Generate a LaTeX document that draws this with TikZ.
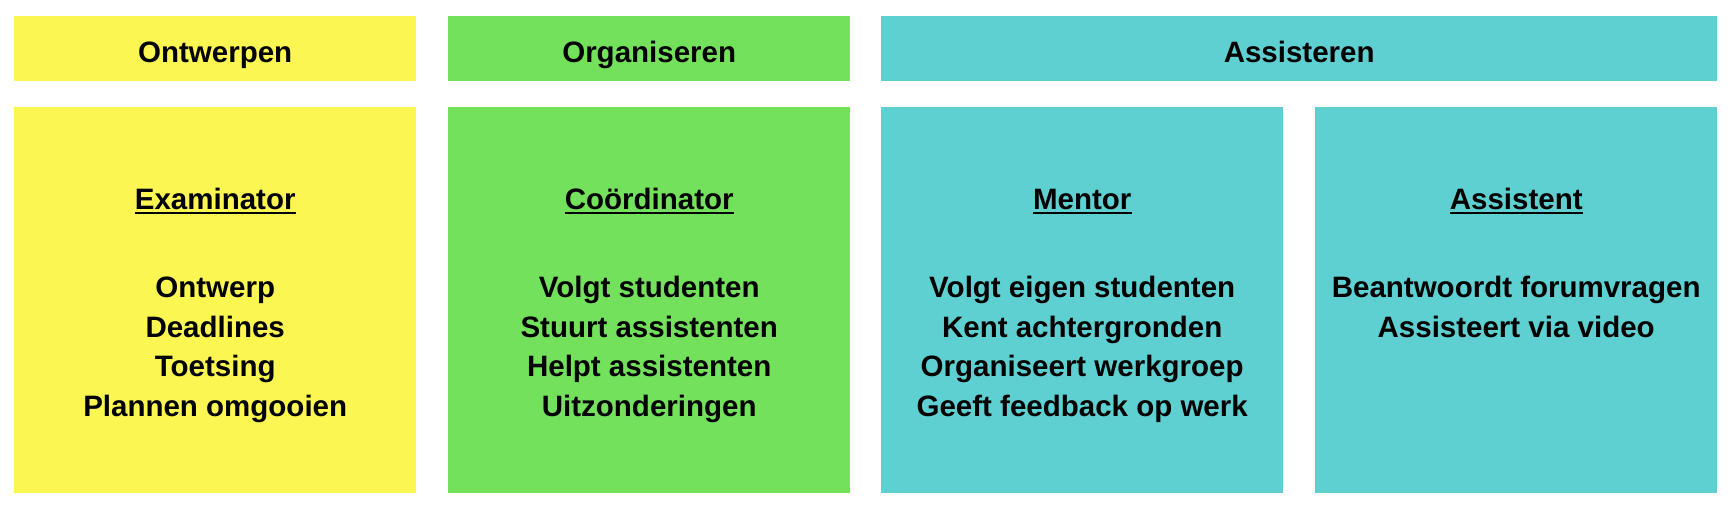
\documentclass[tikz,border=0pt]{standalone}
\usepackage{fontspec}
\setmainfont{Liberation Sans}
\usetikzlibrary{positioning}
\definecolor{exyellow}{HTML}{FCF653}
\definecolor{orggreen}{HTML}{74E15C}
\definecolor{astcyan}{HTML}{5FD0D2}

\begin{document}
\begin{tikzpicture}[x=1pt,y=1pt,
    font=\bfseries\fontsize{29.5}{39.5}\selectfont,
    header/.style={anchor=north west,inner sep=0pt,minimum height=65pt,
                   text height=27pt,text depth=0pt},
    rolebox/.style={anchor=north west,inner sep=0pt,
                    minimum width=402pt,minimum height=386pt},
    roletitle/.style={anchor=base,inner sep=0pt},
    tasks/.style={anchor=base,inner sep=0pt,align=center},
    uline/.style={line width=2pt}]

  \useasboundingbox (0,0) rectangle (1732,-508);

  % --- header bars ---
  \node[header,fill=exyellow,minimum width=402pt] (ontwerpen)    at (14,-16)  {Ontwerpen};
  \node[header,fill=orggreen,minimum width=402pt] (organiseren)  at (448,-16) {Organiseren};
  \node[header,fill=astcyan,minimum width=836pt]  (assisteren)   at (881,-16) {Assisteren};

  % --- role boxes ---
  \node[rolebox,fill=exyellow] (examinator)  at (14,-107)   {};
  \node[rolebox,fill=orggreen] (coordinator) at (448,-107)  {};
  \node[rolebox,fill=astcyan]  (mentor)      at (881,-107)  {};
  \node[rolebox,fill=astcyan]  (assistent)   at (1315,-107) {};

  % --- role titles ---
  \node[roletitle] (tExam) at ([yshift=-102.3pt]examinator.north)  {Examinator};
  \node[roletitle] (tCoor) at ([yshift=-102.3pt]coordinator.north) {Coördinator};
  \node[roletitle] (tMent) at ([yshift=-102.3pt]mentor.north)      {Mentor};
  \node[roletitle] (tAsst) at ([yshift=-102.3pt]assistent.north)   {Assistent};

  \foreach \t in {tExam,tCoor,tMent,tAsst}
    \draw[uline] ([yshift=-3.4pt]\t.base west) -- ([yshift=-3.4pt]\t.base east);

  % --- task lists (base = last line) ---
  \node[tasks] (lExam) at ([yshift=-309.2pt]examinator.north)
        {Ontwerp\\Deadlines\\Toetsing\\Plannen omgooien};
  \node[tasks] (lCoor) at ([yshift=-309.2pt]coordinator.north)
        {Volgt studenten\\Stuurt assistenten\\Helpt assistenten\\Uitzonderingen};
  \node[tasks] (lMent) at ([yshift=-309.2pt]mentor.north)
        {Volgt eigen studenten\\Kent achtergronden\\Organiseert werkgroep\\Geeft feedback op werk};
  \node[tasks] (lAsst) at ([yshift=-230.2pt]assistent.north)
        {Beantwoordt forumvragen\\Assisteert via video};

\end{tikzpicture}
\end{document}
